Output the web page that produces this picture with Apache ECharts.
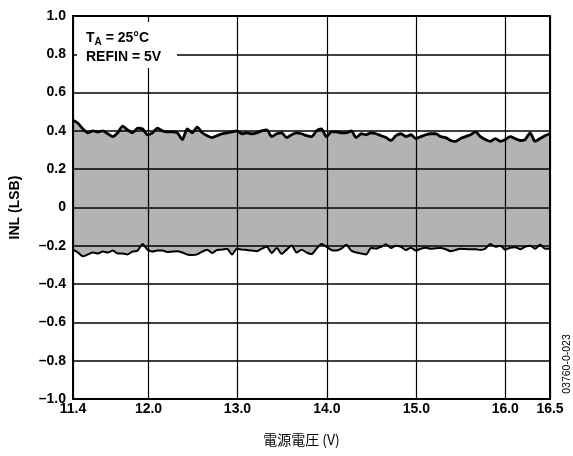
<!DOCTYPE html>
<html>
<head>
<meta charset="utf-8">
<script src="https://cdn.jsdelivr.net/npm/echarts@6/dist/echarts.min.js"></script>
<style>
  html, body { margin: 0; padding: 0; background: #fff; }
  #chart { width: 573px; height: 456px; }
</style>
</head>
<body>
<div id="chart"></div>
<script>
// INL limits recorded across the supply sweep (one reading per sample step)
const inlMax = [
  0.455, 0.44, 0.41, 0.39, 0.40, 0.395, 0.40, 0.385, 0.37, 0.39,
  0.425, 0.405, 0.39, 0.415, 0.41, 0.38, 0.39, 0.415, 0.40, 0.395,
  0.395, 0.39, 0.355, 0.41, 0.39, 0.42, 0.39, 0.375, 0.365, 0.375,
  0.385, 0.39, 0.395, 0.40, 0.385, 0.39, 0.385, 0.39, 0.40, 0.405,
  0.37, 0.385, 0.39, 0.365, 0.38, 0.39, 0.385, 0.375, 0.37, 0.40,
  0.41, 0.37, 0.395, 0.395, 0.39, 0.39, 0.40, 0.365, 0.385, 0.38,
  0.39, 0.385, 0.375, 0.365, 0.35, 0.375, 0.385, 0.37, 0.38, 0.36,
  0.37, 0.38, 0.385, 0.385, 0.37, 0.365, 0.35, 0.345, 0.36, 0.37,
  0.38, 0.395, 0.37, 0.355, 0.345, 0.36, 0.345, 0.355, 0.37, 0.36,
  0.35, 0.355, 0.39, 0.345, 0.36, 0.375, 0.385
];
const inlMin = [
  -0.22, -0.235, -0.255, -0.245, -0.235, -0.24, -0.23, -0.235, -0.225, -0.24,
  -0.24, -0.245, -0.23, -0.225, -0.19, -0.22, -0.23, -0.225, -0.225, -0.232,
  -0.23, -0.228, -0.235, -0.245, -0.248, -0.245, -0.23, -0.22, -0.237, -0.222,
  -0.22, -0.215, -0.245, -0.215, -0.22, -0.222, -0.225, -0.228, -0.215, -0.205,
  -0.237, -0.212, -0.242, -0.22, -0.198, -0.235, -0.22, -0.235, -0.243, -0.215,
  -0.19, -0.205, -0.222, -0.225, -0.215, -0.195, -0.225, -0.235, -0.24, -0.245,
  -0.212, -0.215, -0.205, -0.192, -0.212, -0.2, -0.205, -0.222, -0.21, -0.225,
  -0.215, -0.21, -0.215, -0.213, -0.212, -0.218, -0.228, -0.222, -0.215, -0.217,
  -0.218, -0.218, -0.222, -0.215, -0.19, -0.205, -0.2, -0.22, -0.21, -0.207,
  -0.218, -0.205, -0.2, -0.215, -0.195, -0.215, -0.215
];
// sample step at which the supply reached each labelled voltage
const supplyTickAt = [0, 15.2, 33.1, 51.1, 69.1, 87.0, 96];
const supplyLabels = ['11.4', '12.0', '13.0', '14.0', '15.0', '16.0', '16.5'];

const FONT = '"Liberation Sans", Arial, Helvetica, sans-serif';
const CJK = '"Noto Sans CJK JP", "Liberation Sans", sans-serif';

const chart = echarts.init(document.getElementById('chart'), null, { renderer: 'canvas' });

const toPairs = arr => arr.map((v, i) => [i, v]);

chart.setOption({
  animation: false,
  backgroundColor: '#ffffff',
  grid: {
    left: 69, right: 23, top: 16, bottom: 57,
    show: true, z: 5,
    backgroundColor: 'transparent',
    borderColor: '#000', borderWidth: 2
  },
  xAxis: {
    type: 'value',
    min: 0, max: 96,
    z: 3,
    name: '電源電圧 (V)',
    nameLocation: 'middle',
    nameGap: 34,
    nameTextStyle: { fontFamily: CJK, fontSize: 14, color: '#000', padding: [0, 20, 0, 0] },
    axisLine: { show: false },
    axisTick: { show: false, customValues: supplyTickAt },
    axisLabel: {
      customValues: supplyTickAt,
      margin: 3,
      color: '#000', fontFamily: FONT, fontSize: 14, fontWeight: 'bold',
      formatter: v => {
        const k = supplyTickAt.findIndex(t => Math.abs(t - v) < 1e-6);
        return k >= 0 ? supplyLabels[k] : '';
      }
    },
    splitLine: { show: true, lineStyle: { color: '#000', width: 1.2 } }
  },
  yAxis: {
    type: 'value',
    min: -1, max: 1, interval: 0.2,
    z: 3,
    name: 'INL (LSB)',
    nameLocation: 'middle',
    nameGap: 51,
    nameTextStyle: { fontFamily: FONT, fontSize: 14, fontWeight: 'bold', color: '#000' },
    axisLine: { show: false },
    axisTick: { show: false },
    axisLabel: {
      margin: 7,
      color: '#000', fontFamily: FONT, fontSize: 14, fontWeight: 'bold',
      formatter: v => {
        const r = Math.round(v * 10) / 10;
        if (r === 0) return '0';
        return (r < 0 ? '\u2013' : '') + Math.abs(r).toFixed(1);
      }
    },
    splitLine: { show: true, lineStyle: { color: '#000', width: 1.6 } }
  },
  series: [
    {
      name: 'INL max',
      type: 'line',
      data: toPairs(inlMax),
      showSymbol: false,
      smooth: 0.25,
      z: 2,
      lineStyle: { color: '#000', width: 2.8 },
      areaStyle: { color: '#b3b3b3', opacity: 1, origin: 0 }
    },
    {
      name: 'INL min',
      type: 'line',
      data: toPairs(inlMin),
      showSymbol: false,
      smooth: 0.25,
      z: 2,
      lineStyle: { color: '#000', width: 2 },
      areaStyle: { color: '#b3b3b3', opacity: 1, origin: 0 }
    }
  ],
  graphic: [
    {
      type: 'rect',
      z: 10,
      shape: { x: 77, y: 22, width: 100, height: 46 },
      style: { fill: '#fff' }
    },
    {
      type: 'text',
      z: 11,
      left: 86, top: 31,
      style: {
        text: '{t|T}{s|A}{t| = 25°C}\n{t|REFIN = 5V}',
        rich: {
          t: { fontFamily: FONT, fontSize: 14, fontWeight: 'bold', fill: '#000', lineHeight: 19 },
          s: { fontFamily: FONT, fontSize: 10, fontWeight: 'bold', fill: '#000', lineHeight: 19, verticalAlign: 'bottom', padding: [6, 0, 0, 0] }
        }
      }
    },
    {
      type: 'text',
      z: 11,
      x: 567, y: 364,
      rotation: Math.PI / 2,
      style: {
        text: '03760-0-023',
        fontFamily: FONT, fontSize: 10.5, fill: '#000',
        align: 'center', verticalAlign: 'middle'
      }
    }
  ]
});
</script>
</body>
</html>
